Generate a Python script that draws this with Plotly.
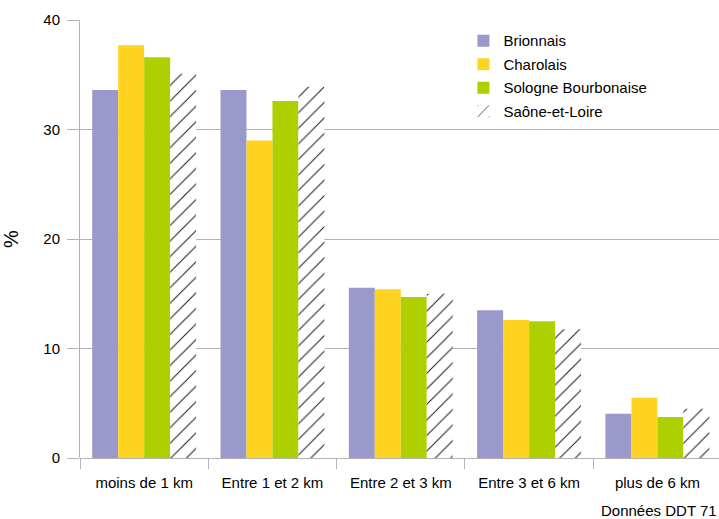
import plotly.graph_objects as go

categories = ["moins de 1 km", "Entre 1 et 2 km", "Entre 2 et 3 km", "Entre 3 et 6 km", "plus de 6 km"]
brionnais = [33.6, 33.6, 15.55, 13.5, 4.05]
charolais = [37.7, 29.0, 15.4, 12.6, 5.5]
sologne = [36.6, 32.6, 14.7, 12.5, 3.75]
saone_et_loire = [35.1, 33.9, 15.0, 11.75, 4.5]
y_ticks = [0, 10, 20, 30, 40]

font = "Liberation Sans, Arial, sans-serif"

fig = go.Figure()
fig.add_bar(x=categories, y=brionnais, name="Brionnais", legendgroup="a",
            marker=dict(color="#9999cc", line_width=0))
fig.add_bar(x=categories, y=charolais, name="Charolais", legendgroup="b",
            marker=dict(color="#ffd320", line_width=0))
fig.add_bar(x=categories, y=sologne, name="Sologne Bourbonaise", legendgroup="c",
            marker=dict(color="#aecf00", line_width=0))
fig.add_bar(
    x=categories, y=saone_et_loire, name="Saône-et-Loire", legendgroup="d",
    marker=dict(
        color="white", line_width=0,
        pattern=dict(shape="/", fgcolor="#1a1a1a", fgopacity=1, bgcolor="white",
                     size=11, solidity=0.09),
    ),
)

fig.update_layout(
    width=719, height=519,
    margin=dict(l=80, r=0, t=20, b=61),
    paper_bgcolor="white", plot_bgcolor="white",
    barmode="group", bargap=0.19, bargroupgap=0,
    font=dict(family=font, size=15, color="#000000"),
    showlegend=True,
    legend=dict(
        x=0.6, y=0.99, xanchor="left", yanchor="top",
        bgcolor="rgba(0,0,0,0)", font=dict(size=15),
        itemsizing="constant", itemwidth=30,
        traceorder="grouped", tracegroupgap=1,
    ),
    xaxis=dict(
        type="category", range=[-0.5, 4.48],
        showline=False, showgrid=False,
        ticks="outside", tickson="boundaries", ticklen=10, tickcolor="#b3b3b3",
        ticklabelstandoff=14,
        tickfont=dict(size=15),
    ),
    yaxis=dict(
        range=[0, 40], tickvals=y_ticks,
        showgrid=True, gridcolor="#b3b3b3", gridwidth=1,
        showline=True, linecolor="#b3b3b3", linewidth=1,
        ticks="outside", ticklen=12, tickcolor="#b3b3b3",
        zeroline=True, zerolinecolor="#b3b3b3", zerolinewidth=1,
        ticklabelstandoff=4,
        tickfont=dict(size=15),
        title=dict(text="%", font=dict(size=20), standoff=20),
    ),
    annotations=[
        dict(text="Données DDT 71", xref="paper", yref="paper", x=1.0, y=-0.095,
             xanchor="right", yanchor="top", showarrow=False, font=dict(size=15)),
    ],
)

fig.write_html("out.html")
